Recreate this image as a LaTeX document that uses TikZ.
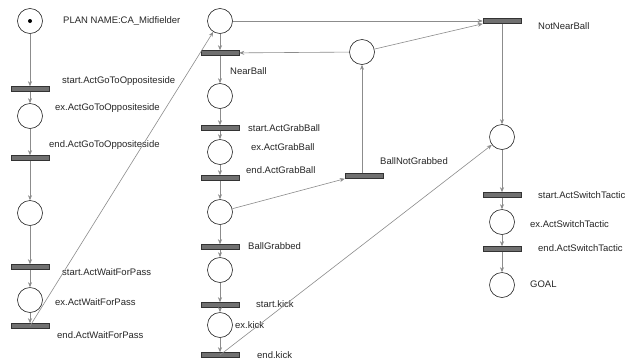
\documentclass[tikz,border=0pt]{standalone}
\usepackage{fontspec}
\setmainfont{Liberation Sans}
\usetikzlibrary{arrows.meta}
\definecolor{edgegray}{HTML}{8C8C8C}
\definecolor{barfill}{HTML}{707070}
\definecolor{txt}{HTML}{262626}
\tikzset{
  place/.style={circle,draw=black!85,line width=0.6pt,minimum size=25pt,inner sep=0pt,fill=white},
  trans/.style={rectangle,draw=black!80,fill=barfill,line width=0.5pt,minimum width=38pt,minimum height=5pt,inner sep=0pt},
  lbl/.style={anchor=west,inner sep=0pt,text=txt,font=\fontsize{9.5pt}{11pt}\selectfont},
  arc/.style={draw=edgegray,line width=0.6pt,-{Stealth[length=5pt,width=4pt]}},
  plain/.style={draw=edgegray,line width=0.6pt},
  token/.style={circle,fill=black,minimum size=4pt,inner sep=0pt}
}
\begin{document}
\begin{tikzpicture}[x=1pt,y=-1pt]
\useasboundingbox (0,0) rectangle (626,362);
\fill[white] (0,0) rectangle (626,362);
% column 1
\node[place] (p0) at (30,21) {};
\node[token] (tok) at (30,21) {};
\node[trans] (t1) at (30,89) {};
\node[place] (p1) at (30,116) {};
\node[trans] (t2) at (30,158) {};
\node[place] (p2) at (30,213) {};
\node[trans] (t3) at (30,267) {};
\node[place] (p3) at (30,300) {};
\node[trans] (t4) at (30,326) {};
% column 2
\node[place] (p4) at (220,21) {};
\node[trans] (t5) at (220,53) {};
\node[place] (p5) at (220,96) {};
\node[trans] (t6) at (220,128) {};
\node[place] (p6) at (220,152) {};
\node[trans] (t7) at (220,178) {};
\node[place] (p7) at (220,212) {};
\node[trans] (t8) at (220,247) {};
\node[place] (p8) at (220,270) {};
\node[trans] (t9) at (220,305) {};
\node[place] (p9) at (220,325) {};
\node[trans] (t10) at (220,355) {};
% column 3
\node[place] (p10) at (362,52) {};
\node[trans] (t11) at (364,176) {};
% column 4
\node[trans] (t12) at (502,21) {};
\node[place] (p11) at (502,137) {};
\node[trans] (t13) at (502,195) {};
\node[place] (p12) at (502,222) {};
\node[trans] (t14) at (502,249) {};
\node[place] (p13) at (502,285) {};
% labels
\node[lbl] (l0) at (63,21) {PLAN NAME:CA\_Midfielder};
\node[lbl] (l1) at (62,81) {start.ActGoToOppositeside};
\node[lbl] (l2) at (55,108) {ex.ActGoToOppositeside};
\node[lbl] (l3) at (49,145) {end.ActGoToOppositeside};
\node[lbl] (l4) at (62,272) {start.ActWaitForPass};
\node[lbl] (l5) at (55,302) {ex.ActWaitForPass};
\node[lbl] (l6) at (57,335) {end.ActWaitForPass};
\node[lbl] (l7) at (230,71) {NearBall};
\node[lbl] (l8) at (248,128) {start.ActGrabBall};
\node[lbl] (l9) at (251,147) {ex.ActGrabBall};
\node[lbl] (l10) at (246,170) {end.ActGrabBall};
\node[lbl] (l11) at (248,246) {BallGrabbed};
\node[lbl] (l12) at (256,304) {start.kick};
\node[lbl] (l13) at (235,325) {ex.kick};
\node[lbl] (l14) at (257,355) {end.kick};
\node[lbl] (l15) at (380,161) {BallNotGrabbed};
\node[lbl] (l16) at (538,26) {NotNearBall};
\node[lbl] (l17) at (538,195) {start.ActSwitchTactic};
\node[lbl] (l18) at (530,224) {ex.ActSwitchTactic};
\node[lbl] (l19) at (538,248) {end.ActSwitchTactic};
\node[lbl] (l20) at (530,284) {GOAL};
% arcs column 1
\draw[arc] (p0) -- (t1);
\draw[arc] (t1) -- (p1);
\draw[arc] (p1) -- (t2);
\draw[arc] (t2) -- (p2);
\draw[arc] (p2) -- (t3);
\draw[arc] (t3) -- (p3);
\draw[arc] (p3) -- (t4);
\draw[arc] (t4.center) -- (p4);
% column 2
\draw[arc] (p4) -- (t5);
\draw[arc] (t5) -- (p5);
\draw[arc] (p5) -- (t6);
\draw[arc] (t6) -- (p6);
\draw[arc] (p6) -- (t7);
\draw[arc] (t7) -- (p7);
\draw[arc] (p7) -- (t8);
\draw[arc] (t8) -- (p8);
\draw[arc] (p8) -- (t9);
\draw[arc] (t9) -- (p9);
\draw[arc] (p9) -- (t10);
% cross arcs
\draw[arc] (p4) -- (t12);
\draw[arc] (p10) -- (t5);
\draw[arc] (p10) -- (t12.south west);
\draw[arc] (p7) -- (t11.south west);
\draw[arc] (p10.south |- t11.north) -- (p10);
\draw[arc] (t12) -- (p11);
\draw[arc] (t10.center) -- (p11);
\draw[arc] (p11) -- (t13);
\draw[arc] (t13) -- (p12);
\draw[arc] (p12) -- (t14);
\draw[arc] (t14) -- (p13);
\end{tikzpicture}
\end{document}
